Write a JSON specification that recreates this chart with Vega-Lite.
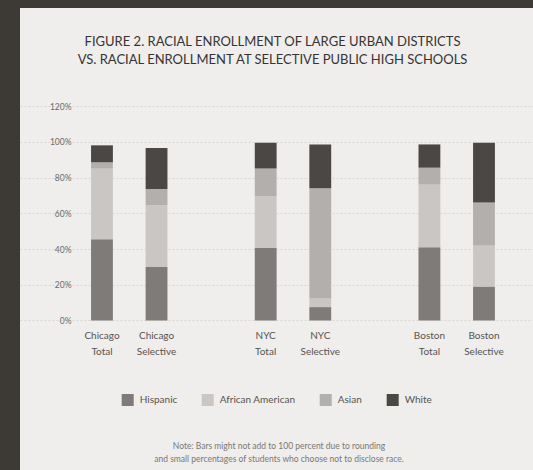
{
  "$schema": "https://vega.github.io/schema/vega-lite/v6.json",
  "width": 513,
  "height": 462,
  "autosize": {"type": "none"},
  "padding": {"left": 20, "top": 8, "right": 0, "bottom": 0},
  "background": "#3d3935",
  "config": {
    "font": "Lato",
    "view": {"fill": "#efeeec", "stroke": null}
  },
  "title": {
    "text": ["FIGURE 2. RACIAL ENROLLMENT OF LARGE URBAN DISTRICTS", "VS. RACIAL ENROLLMENT AT SELECTIVE PUBLIC HIGH SCHOOLS"],
    "orient": "top",
    "anchor": "middle",
    "offset": -59,
    "fontSize": 13,
    "fontWeight": "normal",
    "color": "#363432",
    "lineHeight": 18,
    "dx": -4
  },
  "data": {
    "values": [
      {"school": "Chicago Total", "race": "Hispanic", "pct": 45.5},
      {"school": "Chicago Total", "race": "African American", "pct": 39.5},
      {"school": "Chicago Total", "race": "Asian", "pct": 3.5},
      {"school": "Chicago Total", "race": "White", "pct": 9.5},
      {"school": "Chicago Selective", "race": "Hispanic", "pct": 30},
      {"school": "Chicago Selective", "race": "African American", "pct": 34.5},
      {"school": "Chicago Selective", "race": "Asian", "pct": 9},
      {"school": "Chicago Selective", "race": "White", "pct": 23},
      {"school": "NYC Total", "race": "Hispanic", "pct": 40.5},
      {"school": "NYC Total", "race": "African American", "pct": 29},
      {"school": "NYC Total", "race": "Asian", "pct": 15.5},
      {"school": "NYC Total", "race": "White", "pct": 14.5},
      {"school": "NYC Selective", "race": "Hispanic", "pct": 7.5},
      {"school": "NYC Selective", "race": "African American", "pct": 5},
      {"school": "NYC Selective", "race": "Asian", "pct": 61.5},
      {"school": "NYC Selective", "race": "White", "pct": 24.5},
      {"school": "Boston Total", "race": "Hispanic", "pct": 41},
      {"school": "Boston Total", "race": "African American", "pct": 35},
      {"school": "Boston Total", "race": "Asian", "pct": 9.5},
      {"school": "Boston Total", "race": "White", "pct": 13},
      {"school": "Boston Selective", "race": "Hispanic", "pct": 19},
      {"school": "Boston Selective", "race": "African American", "pct": 23},
      {"school": "Boston Selective", "race": "Asian", "pct": 24},
      {"school": "Boston Selective", "race": "White", "pct": 33.5}
    ]
  },
  "transform": [
    {"calculate": "indexof(['Hispanic', 'African American', 'Asian', 'White'], datum.race)", "as": "stackRank"}
  ],
  "mark": {"type": "bar"},
  "encoding": {
    "x": {
      "field": "school",
      "type": "nominal",
      "scale": {
        "domain": ["Chicago Total", "Chicago Selective", " ", "NYC Total", "NYC Selective", "  ", "Boston Total", "Boston Selective"],
        "paddingInner": 0.6,
        "paddingOuter": 1.316,
        "align": 0.651
      },
      "axis": {
        "orient": "bottom",
        "offset": -149.5,
        "domain": false,
        "ticks": false,
        "labelAngle": 0,
        "labelPadding": 10,
        "labelFontSize": 10,
        "labelLineHeight": 16,
        "labelColor": "#57534f",
        "labelExpr": "split(datum.label, ' ')",
        "title": ["Note: Bars might not add to 100 percent due to rounding", "and small percentages of students who choose not to disclose race."],
        "titleFontSize": 8.5,
        "titleFontWeight": "normal",
        "titleColor": "#7a7774",
        "titleLineHeight": 13,
        "titlePadding": 69,
        "titleX": 258.5
      }
    },
    "y": {
      "field": "pct",
      "type": "quantitative",
      "stack": "zero",
      "scale": {"domain": [-83.64, 174.83], "nice": false, "zero": false},
      "axis": {
        "values": [0, 20, 40, 60, 80, 100, 120],
        "labelExpr": "datum.value + '%'",
        "offset": -67,
        "labelPadding": 16,
        "domain": false,
        "ticks": false,
        "title": null,
        "labelFontSize": 8.5,
        "labelColor": "#6d6a67",
        "grid": true,
        "gridColor": "#d9d7d4",
        "gridDash": [2, 2],
        "gridWidth": 1
      }
    },
    "order": {"field": "stackRank", "type": "quantitative", "sort": "ascending"},
    "color": {
      "field": "race",
      "type": "nominal",
      "sort": ["Hispanic", "African American", "Asian", "White"],
      "scale": {
        "domain": ["Hispanic", "African American", "Asian", "White"],
        "range": ["#7e7b79", "#c9c6c4", "#b2afad", "#4b4745"]
      },
      "legend": {
        "orient": "none",
        "direction": "horizontal",
        "legendX": 101.7,
        "legendY": 386,
        "title": null,
        "symbolType": "square",
        "symbolSize": 144,
        "symbolStrokeWidth": 0,
        "labelFontSize": 10,
        "labelColor": "#57534f",
        "labelOffset": 6,
        "columnPadding": 24
      }
    }
  }
}
